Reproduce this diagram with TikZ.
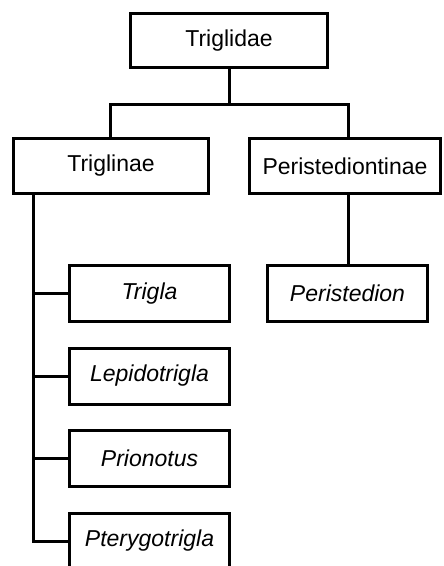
\documentclass[tikz,border=0pt]{standalone}
\usepackage{fontspec}
\setmainfont{Liberation Sans}
\begin{document}
\begin{tikzpicture}[x=1pt,y=-1pt,
  box/.style={draw, line width=3pt, rectangle, inner sep=0pt,
    font=\fontsize{23}{27}\selectfont},
  genus/.style={box, minimum width=160pt, minimum height=56pt,
    font=\fontsize{23}{27}\selectfont\itshape},
  conn/.style={line width=3pt, line join=miter}]
\useasboundingbox (0,0) rectangle (444,566);
\clip (0,0) rectangle (444,566);
\node[box, minimum width=197pt, minimum height=54pt] (fam) at (229,40.5) {Triglidae};
\node[box, minimum width=195pt, minimum height=55pt] (tgl) at (111,166) {Triglinae};
\node[box, minimum width=191pt, minimum height=55pt] (per) at (345,166) {Peristediontinae};
\node[genus] (g1) at (149.5,293.5) {Trigla};
\node[genus] (g2) at (149.5,376) {Lepidotrigla};
\node[genus] (g3) at (149.5,458.5) {Prionotus};
\node[genus] (g4) at (149.5,541) {Pterygotrigla};
\node[genus] (p1) at (347.5,293.5) {Peristedion};
\coordinate (j1) at (229,104);
\coordinate (bl) at (110,104);
\coordinate (br) at (348,104);
\coordinate (sp) at (33,195);
\draw[conn] (fam.south) -- (j1);
\draw[conn] (bl |- tgl.north) -- (bl) -- (br) -- (br |- per.north);
\draw[conn] (br |- per.south) -- (br |- p1.north);
\draw[conn] (sp |- tgl.south) -- (sp |- g4.west) -- (g4.west);
\draw[conn] (sp |- g1.west) -- (g1.west);
\draw[conn] (sp |- g2.west) -- (g2.west);
\draw[conn] (sp |- g3.west) -- (g3.west);
\end{tikzpicture}
\end{document}
